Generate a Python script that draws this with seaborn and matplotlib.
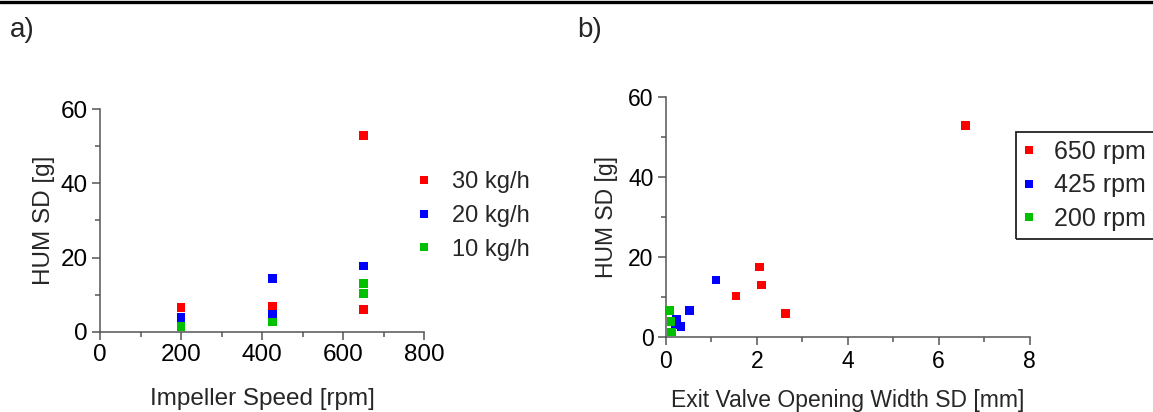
import matplotlib
matplotlib.use("Agg")
import matplotlib.pyplot as plt
from matplotlib.ticker import MultipleLocator
from matplotlib.lines import Line2D
from matplotlib.patches import Rectangle
import pandas as pd
import seaborn as sns

# Panel a: HUM standard deviation vs impeller speed, grouped by throughput
speed_a = [200, 425, 650, 650,
           200, 425, 425, 650,
           200, 425, 650, 650]
hum_a = [6.6, 6.7, 53.0, 6.0,
         3.8, 14.3, 4.6, 17.7,
         1.5, 2.6, 13.1, 10.3]
flow_a = ["30 kg/h"] * 4 + ["20 kg/h"] * 4 + ["10 kg/h"] * 4
flow_order = ["30 kg/h", "20 kg/h", "10 kg/h"]

# Panel b: HUM standard deviation vs exit valve opening width SD, grouped by speed
width_b = [6.60, 2.06, 2.11, 1.54, 2.63,
           1.10, 0.52, 0.235, 0.20, 0.33,
           0.08, 0.11, 0.125]
hum_b = [52.9, 17.6, 13.1, 10.3, 6.0,
         14.3, 6.65, 4.4, 3.2, 2.65,
         6.65, 3.9, 1.3]
rpm_b = ["650 rpm"] * 5 + ["425 rpm"] * 5 + ["200 rpm"] * 3
rpm_order = ["650 rpm", "425 rpm", "200 rpm"]

colors = ["#ff0000", "#0000ff", "#00c000"]

sns.set_theme(style="ticks")
plt.rcParams["font.family"] = ["Liberation Sans", "DejaVu Sans"]

W, H = 1153, 412
fig = plt.figure(figsize=(W / 100, H / 100), dpi=100)

ax_a = fig.add_axes([100 / W, 1 - 331.7 / H, 324 / W, 222.4 / H])
ax_b = fig.add_axes([666 / W, 1 - 337.3 / H, 363.5 / W, 240 / H])

df_a = pd.DataFrame({"speed": speed_a, "hum": hum_a, "flow": flow_a})
df_b = pd.DataFrame({"width": width_b, "hum": hum_b, "rpm": rpm_b})

sns.scatterplot(data=df_a, x="speed", y="hum", hue="flow", hue_order=flow_order,
                palette=colors, marker="s", s=40, linewidth=0, ax=ax_a,
                clip_on=False, legend=False, zorder=3)
sns.scatterplot(data=df_b, x="width", y="hum", hue="rpm", hue_order=rpm_order,
                palette=colors, marker="s", s=40, linewidth=0, ax=ax_b,
                clip_on=False, legend=False, zorder=3)

spine_col = "#555555"


def style_axis(ax, xmax, xmaj, xmin, fs):
    ax.set_xlim(0, xmax)
    ax.set_ylim(0, 60)
    ax.xaxis.set_major_locator(MultipleLocator(xmaj))
    ax.xaxis.set_minor_locator(MultipleLocator(xmin))
    ax.yaxis.set_major_locator(MultipleLocator(20))
    ax.yaxis.set_minor_locator(MultipleLocator(10))
    for side in ("top", "right"):
        ax.spines[side].set_visible(False)
    for side in ("left", "bottom"):
        ax.spines[side].set_color(spine_col)
        ax.spines[side].set_linewidth(1.1)
    ax.tick_params(which="major", direction="out", length=6, width=1.1,
                   color=spine_col, labelsize=fs, labelcolor="black", pad=3)
    ax.tick_params(which="minor", direction="out", length=3.6, width=1.1,
                   color=spine_col)
    ax.set_facecolor("white")


style_axis(ax_a, 800, 200, 100, 17.5)
style_axis(ax_b, 8, 2, 1, 16.5)

ax_a.set_xlabel("Impeller Speed [rpm]", fontsize=17.5, labelpad=16)
ax_a.set_ylabel("HUM SD [g]", fontsize=17.5, labelpad=4)
ax_b.set_xlabel("Exit Valve Opening Width SD [mm]", fontsize=16.5, labelpad=12)
ax_b.set_ylabel("HUM SD [g]", fontsize=16.5, labelpad=7)


def handles(labels):
    return [Line2D([], [], marker="s", linestyle="none", markersize=5.8,
                   markerfacecolor=c, markeredgewidth=0, label=l)
            for c, l in zip(colors, labels)]


fig.legend(handles=handles(flow_order), loc="upper left",
           bbox_to_anchor=(419 / W, 1 - 171 / H), frameon=False,
           fontsize=17, handlelength=0.4, handletextpad=1.0,
           labelspacing=0.5, borderpad=0.0, borderaxespad=0)

fig.legend(handles=handles(rpm_order), loc="upper left",
           bbox_to_anchor=(1016 / W, 1 - 131.7 / H), frameon=False,
           fontsize=18, handlelength=0.4, handletextpad=0.8,
           labelspacing=0.38, borderpad=0.33, borderaxespad=0)

# frame of the speed legend, running past the right edge of the figure
fig.add_artist(Rectangle((1016 / W, 1 - 239 / H), 160 / W, 107.3 / H,
                         transform=fig.transFigure, fill=False,
                         edgecolor="#222222", linewidth=1.3))

fig.text(10 / W, 1 - 30 / H, "a)", fontsize=20, va="center", ha="left")
fig.text(577 / W, 1 - 30 / H, "b)", fontsize=20, va="center", ha="left")

fig.add_artist(Line2D([0, 1], [1 - 1.6 / H, 1 - 1.6 / H], color="black",
                      linewidth=2.4, transform=fig.transFigure))

fig.savefig("out.png", dpi=100, facecolor="white")
